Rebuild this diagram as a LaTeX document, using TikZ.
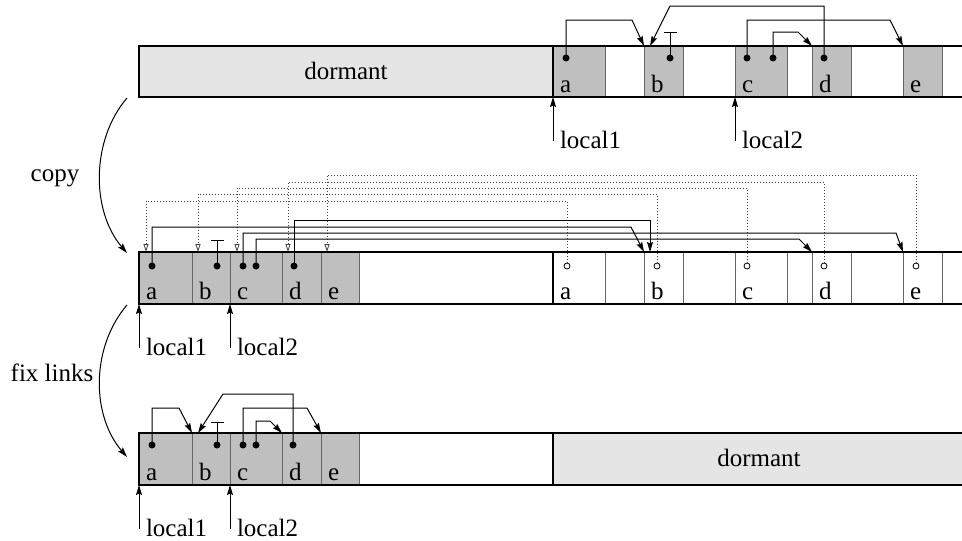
\documentclass[tikz,border=0pt]{standalone}
\usepackage{fontspec}
\setmainfont{Liberation Serif}
\usetikzlibrary{arrows.meta}
\newcommand\mkcell[7]{%
  \node[#6,minimum width={#3-#2},minimum height={#5-#4},inner sep=0pt,outer sep=0pt,anchor=north west] (#1) at (#2,#4) {};
  \node[lbl] (#1l) at (#2+7,#5-5) {#7};}
\begin{document}
\begin{tikzpicture}[x=1pt,y=-1pt,
  font=\fontsize{25}{30}\selectfont,
  lbl/.style={anchor=base west,inner sep=0pt,outer sep=0pt},
  barline/.style={draw=black,line width=1.3pt},
  cellg/.style={draw=black!60,line width=1pt,fill=black!25},
  cellw/.style={draw=black!60,line width=1pt},
  dorm/.style={fill=black!10,inner sep=0pt,outer sep=0pt,anchor=north west},
  sep/.style={line width=2.4pt},
  ptr/.style={line width=1pt,-{Stealth[length=10pt,width=6pt,inset=1.5pt]}},
  nullp/.style={line width=1pt,-{Bar[width=13pt,line width=1pt]}},
  dot/.style={circle,fill=black,inner sep=0pt,minimum size=7pt},
  odot/.style={circle,draw=black,fill=white,line width=0.8pt,inner sep=0pt,minimum size=6pt},
  dlink/.style={dotted,line width=1pt,draw=black!75,-{Triangle[open,length=8pt,width=5pt,fill=white,line width=0.8pt]}},
]
\useasboundingbox (0,0) rectangle (962,541);
\clip (0,0) rectangle (962,541);

%% ---------------- top bar ----------------
\node[dorm,minimum width=414pt,minimum height=51pt] (tdorm) at (139,46) {};
\node[anchor=base,inner sep=0pt] (tdormt) at (346,79) {dormant};
\mkcell{ta}{553}{605}{46}{97}{cellg}{a}
\mkcell{tb}{644}{683}{46}{97}{cellg}{b}
\mkcell{tc}{735}{787}{46}{97}{cellg}{c}
\mkcell{td}{812}{851}{46}{97}{cellg}{d}
\mkcell{te}{903}{942}{46}{97}{cellg}{e}
\draw[barline] (975,46) -- (139,46) -- (139,97) -- (975,97);
\draw[sep] (ta.north west) -- (ta.south west);

\node[dot] (ta-p) at (566,58) {};
\node[dot] (tb-p) at (670,58) {};
\node[dot] (tc1-p) at (747,58) {};
\node[dot] (tc2-p) at (773,58) {};
\node[dot] (td-p) at (824,58) {};
\draw[ptr] (ta-p.center) -- (566,20) -- (632,20) -- (tb.north west);
\draw[ptr] (td-p.center) -- (824,6) -- (670,6) -- ([xshift=6pt]tb.north west);
\draw[ptr] (tc1-p.center) -- (747,20) -- (890,20) -- (te.north west);
\draw[ptr] (tc2-p.center) -- (773,32) -- (798,32) -- (td.north west);
\draw[nullp] (tb-p.center) -- (670,32);

\coordinate (tl1s) at (553,141);
\coordinate (tl2s) at (735,141);
\draw[ptr] (tl1s) -- (ta.south west);
\draw[ptr] (tl2s) -- (tc.south west);
\node[lbl] (tl1t) at (560,148) {local1};
\node[lbl] (tl2t) at (742,148) {local2};

%% ---------------- middle bar ----------------
\mkcell{ma}{139}{192}{252}{304}{cellg}{a}
\mkcell{mb}{192}{230}{252}{304}{cellg}{b}
\mkcell{mc}{230}{282}{252}{304}{cellg}{c}
\mkcell{md}{282}{321}{252}{304}{cellg}{d}
\mkcell{me}{321}{359}{252}{304}{cellg}{e}
\mkcell{mra}{553}{605}{252}{304}{cellw}{a}
\mkcell{mrb}{644}{683}{252}{304}{cellw}{b}
\mkcell{mrc}{735}{787}{252}{304}{cellw}{c}
\mkcell{mrd}{812}{851}{252}{304}{cellw}{d}
\mkcell{mre}{903}{942}{252}{304}{cellw}{e}
\draw[barline] (975,252) -- (139,252) -- (139,304) -- (975,304);
\draw[sep] (mra.north west) -- (mra.south west);

% dotted back links
\node[odot] (mra-o) at (567,266) {};
\node[odot] (mrb-o) at (657,266) {};
\node[odot] (mrc-o) at (747,266) {};
\node[odot] (mrd-o) at (824,266) {};
\node[odot] (mre-o) at (916,266) {};
\draw[dlink] (mra-o.north) -- (567,201) -- (146,201) -- ([xshift=7pt]ma.north west);
\draw[dlink] (mrb-o.north) -- (657,194) -- (198,194) -- ([xshift=6pt]mb.north west);
\draw[dlink] (mrc-o.north) -- (747,188) -- (237,188) -- ([xshift=7pt]mc.north west);
\draw[dlink] (mrd-o.north) -- (824,182) -- (288,182) -- ([xshift=6pt]md.north west);
\draw[dlink] (mre-o.north) -- (916,175) -- (327,175) -- ([xshift=6pt]me.north west);

\node[dot] (ma-p) at (152,266) {};
\node[dot] (mb-p) at (217,266) {};
\node[dot] (mc1-p) at (243,266) {};
\node[dot] (mc2-p) at (256,266) {};
\node[dot] (md-p) at (294,266) {};
\draw[ptr] (md-p.center) -- (294,220) -- (650,220) -- ([xshift=6pt]mrb.north west);
\draw[ptr] (ma-p.center) -- (152,227) -- (631,227) -- (mrb.north west);
\draw[ptr] (mc1-p.center) -- (243,233) -- (896,233) -- (mre.north west);
\draw[ptr] (mc2-p.center) -- (256,239) -- (799,239) -- (mrd.north west);
\draw[nullp] (mb-p.center) -- (217,240);

\coordinate (ml1s) at (139,348);
\coordinate (ml2s) at (230,348);
\draw[ptr] (ml1s) -- (ma.south west);
\draw[ptr] (ml2s) -- (mc.south west);
\node[lbl] (ml1t) at (146,355) {local1};
\node[lbl] (ml2t) at (237,355) {local2};

%% ---------------- bottom bar ----------------
\node[dorm,minimum width=425pt,minimum height=52pt] (bdorm) at (553,433) {};
\node[anchor=base,inner sep=0pt] (bdormt) at (759,466) {dormant};
\mkcell{ba}{139}{192}{433}{485}{cellg}{a}
\mkcell{bb}{192}{230}{433}{485}{cellg}{b}
\mkcell{bc}{230}{282}{433}{485}{cellg}{c}
\mkcell{bd}{282}{321}{433}{485}{cellg}{d}
\mkcell{be}{321}{359}{433}{485}{cellg}{e}
\draw[barline] (975,433) -- (139,433) -- (139,485) -- (975,485);
\draw[sep] (bdorm.north west) -- (bdorm.south west);

\node[dot] (ba-p) at (152,445) {};
\node[dot] (bb-p) at (217,445) {};
\node[dot] (bc1-p) at (243,445) {};
\node[dot] (bc2-p) at (256,445) {};
\node[dot] (bd-p) at (293,445) {};
\draw[ptr] (ba-p.center) -- (152,408) -- (179,408) -- (bb.north west);
\draw[ptr] (bd-p.center) -- (293,394) -- (223,394) -- ([xshift=6pt]bb.north west);
\draw[ptr] (bc1-p.center) -- (243,408) -- (307,408) -- (be.north west);
\draw[ptr] (bc2-p.center) -- (256,421) -- (270,421) -- (bd.north west);
\draw[nullp] (bb-p.center) -- (217,422);

\coordinate (bl1s) at (139,529);
\coordinate (bl2s) at (230,529);
\draw[ptr] (bl1s) -- (ba.south west);
\draw[ptr] (bl2s) -- (bc.south west);
\node[lbl] (bl1t) at (146,536) {local1};
\node[lbl] (bl2t) at (237,536) {local2};

%% ---------------- transitions ----------------
\coordinate (cps) at (127,98);
\coordinate (cpe) at (127,253);
\draw[ptr] (cps) .. controls (91,140) and (91,211) .. (cpe);
\node[anchor=base,inner sep=0pt] (copyt) at (55,181) {copy};
\coordinate (fxs) at (127,305);
\coordinate (fxe) at (127,457);
\draw[ptr] (fxs) .. controls (91,347) and (91,415) .. (fxe);
\node[anchor=base,inner sep=0pt] (fixt) at (52,381) {fix links};
\end{tikzpicture}
\end{document}
